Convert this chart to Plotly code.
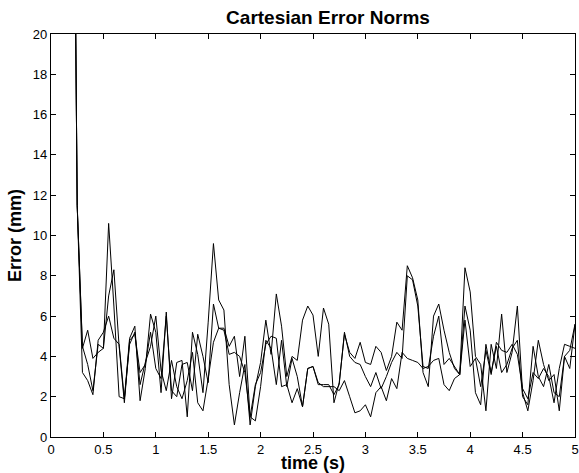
import numpy as np
import plotly.graph_objects as go

t = [round(0.2 + 0.05 * i, 2) for i in range(97)]

err_a = [42, 11.5, 4.4, 5.3, 3.9, 4.2, 4.4, 10.6, 6.5, 2.0,
         1.9, 4.9, 5.5, 1.8, 3.4, 6.1, 5.2, 2.2, 6.2, 1.9,
         3.7, 3.8, 1.0, 5.2, 4.1, 2.2, 5.7, 9.6, 6.8, 6.3,
         2.6, 0.6, 2.2, 3.6, 0.6, 2.5, 3.7, 5.8, 4.1, 7.1,
         5.5, 3.0, 4.0, 3.8, 5.8, 6.5, 6.05, 4.0, 6.4, 5.6,
         1.7, 2.7, 5.1, 4.2, 3.9, 4.7, 3.7, 3.6, 4.5, 4.2,
         3.3, 4.0, 5.7, 5.3, 8.5, 7.9, 6.8, 3.2, 2.5, 6.0,
         6.6, 5.3, 4.2, 3.4, 3.1, 8.4, 7.2, 4.0, 3.6, 1.3,
         4.6, 3.4, 6.1, 3.2, 4.2, 6.5, 2.2, 1.3, 2.8, 4.8,
         3.6, 2.8, 3.1, 1.3, 4.0, 4.3, 5.6]

err_b = [42, 11.5, 4.5, 3.6, 2.3, 4.6, 4.4, 7.0, 8.3, 4.5,
         1.7, 4.8, 5.1, 3.2, 3.6, 5.2, 3.4, 2.9, 6.0, 2.3,
         2.0, 3.6, 3.7, 2.3, 5.1, 4.0, 2.7, 6.6, 5.4, 5.4,
         4.5, 5.0, 3.0, 5.0, 1.0, 0.8, 2.5, 4.8, 4.4, 2.6,
         4.8, 2.5, 3.9, 3.0, 1.5, 3.4, 3.5, 2.6, 2.6, 2.6,
         2.1, 2.6, 5.2, 4.0, 3.7, 3.6, 3.0, 2.5, 3.2, 2.4,
         3.0, 3.7, 4.2, 3.9, 8.0, 7.8, 6.5, 3.5, 3.4, 5.0,
         6.0, 3.6, 3.9, 3.5, 3.1, 6.5, 5.3, 2.2, 1.6, 4.6,
         3.2, 4.5, 3.2, 3.6, 4.4, 4.8, 2.0, 1.6, 4.5, 3.0,
         2.5, 3.6, 2.2, 2.0, 4.0, 3.4, 5.6]

err_c = [42, 11.5, 3.2, 2.8, 2.1, 4.8, 5.2, 6.0, 4.9, 4.6,
         1.9, 4.6, 5.2, 2.6, 3.7, 4.5, 6.0, 3.3, 2.3, 3.8,
         2.5, 1.9, 2.8, 4.2, 1.7, 1.3, 2.9, 4.7, 5.4, 5.3,
         4.1, 4.2, 4.0, 3.2, 1.0, 2.6, 3.2, 4.6, 5.0, 4.9,
         2.5, 2.6, 1.7, 2.4, 1.5, 3.4, 3.5, 2.7, 2.5, 2.5,
         2.5, 2.3, 2.8, 2.0, 1.2, 1.3, 1.6, 1.0, 2.2, 2.5,
         1.8, 2.9, 2.4, 4.2, 3.9, 3.8, 3.7, 3.4, 3.5, 3.8,
         3.9, 2.6, 2.3, 2.9, 3.1, 5.8, 3.5, 3.9, 2.5, 4.3,
         3.1, 4.7, 4.3, 4.2, 4.6, 4.1, 2.4, 1.9, 3.2, 2.9,
         3.4, 3.0, 1.7, 3.4, 4.6, 4.5, 4.4]

x_ticks = [0, 0.5, 1, 1.5, 2, 2.5, 3, 3.5, 4, 4.5, 5]
x_tick_labels = ["0", "0.5", "1", "1.5", "2", "2.5", "3", "3.5", "4", "4.5", "5"]
y_ticks = list(range(0, 21, 2))

FONT = "Liberation Sans, Arial, Helvetica, sans-serif"

fig = go.Figure()
for s in (err_a, err_b, err_c):
    fig.add_trace(go.Scatter(x=t, y=s, mode="lines",
                             line=dict(color="black", width=1),
                             showlegend=False, hoverinfo="skip"))

axis_common = dict(showline=True, linecolor="black", linewidth=1.2,
                   mirror="ticks", ticks="inside", ticklen=5,
                   tickcolor="black", tickwidth=1, showgrid=False,
                   zeroline=False, ticklabeloverflow="allow",
                   tickfont=dict(family=FONT, size=13, color="black"))

fig.update_xaxes(range=[0, 5], tickvals=x_ticks, ticktext=x_tick_labels,
                 ticklabelstandoff=0,
                 title=dict(text="<b>time (s)</b>", font=dict(family=FONT, size=18, color="black"),
                            standoff=3),
                 **axis_common)
fig.update_yaxes(range=[0, 20], tickvals=y_ticks, ticklabelstandoff=0,
                 title=dict(text="<b>Error (mm)</b>", font=dict(family=FONT, size=18, color="black"),
                            standoff=6),
                 **axis_common)

fig.update_layout(
    width=579, height=473,
    margin=dict(l=51, r=4, t=34, b=36, autoexpand=False),
    paper_bgcolor="white", plot_bgcolor="white",
    title=dict(text="<b>Cartesian Error Norms</b>", x=328 / 579, xanchor="center",
               y=1 - 17 / 473, yanchor="middle",
               font=dict(family=FONT, size=19, color="black")),
    font=dict(family=FONT, color="black"),
)

fig.write_html("out.html", config={"displayModeBar": False},
               post_script="document.body.style.margin='0';document.body.style.overflow='hidden';")
